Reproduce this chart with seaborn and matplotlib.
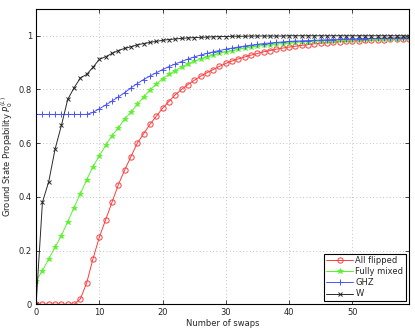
import numpy as np
import pandas as pd
import matplotlib
matplotlib.use("Agg")
import matplotlib.pyplot as plt
import seaborn as sns

# number of swaps 0..59
swaps = list(range(60))

all_flipped = [0, 0, 0, 0, 0, 0, 0, 0.02, 0.08, 0.17,
               0.25, 0.315, 0.38, 0.445, 0.50, 0.55, 0.60, 0.635, 0.67, 0.70,
               0.73, 0.755, 0.78, 0.80, 0.818, 0.834, 0.849, 0.862, 0.874, 0.886,
               0.897, 0.906, 0.914, 0.921, 0.928, 0.934, 0.94, 0.945, 0.95, 0.954,
               0.958, 0.961, 0.964, 0.967, 0.97, 0.972, 0.974, 0.976, 0.978, 0.979,
               0.981, 0.982, 0.983, 0.984, 0.985, 0.986, 0.987, 0.988, 0.988, 0.989]

fully_mixed = [0.087, 0.125, 0.169, 0.213, 0.256, 0.308, 0.36, 0.412, 0.464, 0.513,
               0.553, 0.592, 0.628, 0.657, 0.69, 0.715, 0.745, 0.772, 0.797, 0.82,
               0.84, 0.856, 0.87, 0.883, 0.895, 0.905, 0.914, 0.922, 0.929, 0.935,
               0.94, 0.945, 0.95, 0.954, 0.958, 0.961, 0.964, 0.967, 0.969, 0.971,
               0.973, 0.975, 0.977, 0.978, 0.979, 0.98, 0.981, 0.982, 0.983, 0.984,
               0.985, 0.986, 0.987, 0.987, 0.988, 0.988, 0.989, 0.989, 0.99, 0.99]

ghz = [0.707, 0.707, 0.707, 0.707, 0.707, 0.707, 0.707, 0.707, 0.707, 0.715,
       0.728, 0.742, 0.757, 0.772, 0.788, 0.806, 0.822, 0.837, 0.85, 0.862,
       0.874, 0.885, 0.895, 0.904, 0.913, 0.921, 0.928, 0.934, 0.94, 0.945,
       0.95, 0.954, 0.958, 0.962, 0.965, 0.968, 0.971, 0.973, 0.975, 0.977,
       0.979, 0.98, 0.981, 0.982, 0.983, 0.984, 0.985, 0.986, 0.987, 0.988,
       0.988, 0.989, 0.989, 0.99, 0.99, 0.991, 0.991, 0.992, 0.992, 0.993]

w_state = [0, 0.38, 0.457, 0.578, 0.666, 0.763, 0.806, 0.843, 0.856, 0.883,
           0.912, 0.922, 0.934, 0.945, 0.953, 0.959, 0.966, 0.971, 0.975, 0.979,
           0.983, 0.986, 0.988, 0.99, 0.992, 0.993, 0.994, 0.995, 0.996, 0.997,
           0.997, 0.998, 0.998, 0.998, 0.999, 0.999, 0.999, 0.999, 0.999, 0.999,
           1.0, 1.0, 1.0, 1.0, 1.0, 1.0, 1.0, 1.0, 1.0, 1.0,
           1.0, 1.0, 1.0, 1.0, 1.0, 1.0, 1.0, 1.0, 1.0, 1.0]

labels = ["All flipped", "Fully mixed", "GHZ", "W"]

df = pd.DataFrame({
    "swaps": swaps * 4,
    "prob": all_flipped + fully_mixed + ghz + w_state,
    "state": sum([[lab] * len(swaps) for lab in labels], []),
})

sns.set_theme(style="white")
plt.rcParams["font.family"] = ["DejaVu Sans"]

fig = plt.figure(figsize=(4.15, 3.29), dpi=100)
ax = fig.add_axes([0.087, 0.075, 0.899, 0.898])

styles = {
    "All flipped": dict(color="#ff3b3b", marker="o", mfc="none", ms=3.8, mew=0.7),
    "Fully mixed": dict(color="#5cf030", marker="*", mfc="#5cf030", ms=4.0, mew=0.5),
    "GHZ": dict(color="#4a55ff", marker="+", ms=4.5, mew=0.7),
    "W": dict(color="#2a2a2a", marker="x", ms=3.2, mew=0.7),
}

for lab in labels:
    sub = df[df["state"] == lab]
    st = styles[lab]
    sns.lineplot(data=sub, x="swaps", y="prob", ax=ax, label=lab,
                 color=st["color"], marker=st["marker"],
                 markerfacecolor=st.get("mfc", st["color"]),
                 markeredgecolor=st["color"], markersize=st["ms"],
                 markeredgewidth=st["mew"], linewidth=0.7)

ax.set_xlim(0, 59)
ax.set_ylim(0, 1.1)
ax.set_xticks([0, 10, 20, 30, 40, 50])
ax.set_yticks([0, 0.2, 0.4, 0.6, 0.8, 1])
ax.set_yticklabels(["0", "0.2", "0.4", "0.6", "0.8", "1"])
ax.grid(True, linestyle=(0, (1, 3)), color="#b0b0b0", linewidth=0.6)
ax.tick_params(direction="in", length=3, width=0.6, labelsize=6,
               top=True, right=True, bottom=True, left=True, pad=3)
for sp in ax.spines.values():
    sp.set_color("black")
    sp.set_linewidth(0.8)

ax.set_xlabel("Number of swaps", fontsize=6, labelpad=1)
ax.set_ylabel(r"Ground State Propability $P_0^{(L)}$", fontsize=6, labelpad=3)

leg = ax.legend(loc="lower right", fontsize=6, frameon=True, fancybox=False,
                framealpha=1, edgecolor="black", borderpad=0.3,
                handlelength=3.2, labelspacing=0.25, handletextpad=0.3,
                borderaxespad=0.4)
leg.get_frame().set_linewidth(0.8)

fig.savefig("out.png", dpi=100)
